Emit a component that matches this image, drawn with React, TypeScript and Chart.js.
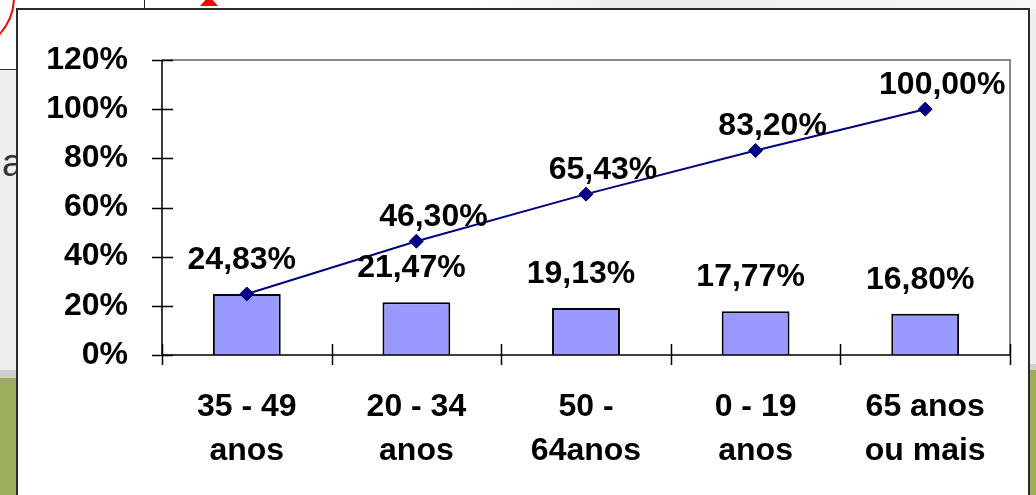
import React, { useEffect, useRef } from "react";
import { Chart, registerables } from "chart.js";

Chart.register(...registerables);

const categories: string[][] = [
  ["35 - 49", "anos"],
  ["20 - 34", "anos"],
  ["50 -", "64anos"],
  ["0 - 19", "anos"],
  ["65 anos", "ou mais"],
];
const shareValues = [24.83, 21.47, 19.13, 17.77, 16.8];
const cumulativeValues = [24.83, 46.3, 65.43, 83.2, 100.0];
const yTicks = [0, 20, 40, 60, 80, 100, 120];

const FONT_FAMILY = '"Liberation Sans", Arial, "DejaVu Sans", sans-serif';
const fmt = (v: number) => v.toFixed(2).replace(".", ",") + "%";

const axesPlugin = {
  id: "excelAxes",
  afterDatasetsDraw(chart: any) {
    const { ctx, chartArea, scales } = chart;
    const { left, right, top, bottom } = chartArea;
    const x = scales.x;
    const y = scales.y;
    ctx.save();
    ctx.strokeStyle = "#8a8a8a";
    ctx.lineWidth = 2;
    ctx.beginPath();
    ctx.moveTo(left, top);
    ctx.lineTo(right, top);
    ctx.lineTo(right, bottom);
    ctx.stroke();
    ctx.strokeStyle = "#000";
    ctx.lineWidth = 1.5;
    ctx.beginPath();
    ctx.moveTo(left, top);
    ctx.lineTo(left, bottom);
    ctx.lineTo(right, bottom);
    ctx.stroke();
    ctx.beginPath();
    yTicks.forEach((v) => {
      const py = Math.round(y.getPixelForValue(v)) + 0.5;
      ctx.moveTo(left - 10, py);
      ctx.lineTo(left + 11, py);
    });
    for (let i = 0; i <= categories.length; i++) {
      const px = Math.round(x.getPixelForValue(i - 0.5)) + 0.5;
      ctx.moveTo(px, bottom - 11);
      ctx.lineTo(px, bottom + 10);
    }
    ctx.stroke();
    ctx.restore();
  },
};

const labelsPlugin = {
  id: "valueLabels",
  afterDraw(chart: any) {
    const { ctx } = chart;
    ctx.save();
    ctx.font = `bold 32px ${FONT_FAMILY}`;
    ctx.fillStyle = "#000";
    ctx.textAlign = "center";
    ctx.textBaseline = "middle";
    const bars = chart.getDatasetMeta(0).data;
    bars.forEach((bar: any, i: number) => {
      ctx.fillText(fmt(shareValues[i]), bar.x - 5, bar.y - 34);
    });
    const pts = chart.getDatasetMeta(1).data;
    pts.forEach((pt: any, i: number) => {
      if (i === 0) return;
      ctx.fillText(fmt(cumulativeValues[i]), pt.x + 17, pt.y - 24);
    });
    ctx.restore();
  },
};

function ParetoChart() {
  const ref = useRef<HTMLCanvasElement | null>(null);
  useEffect(() => {
    if (!ref.current) return;
    const chart = new Chart(ref.current, {
      type: "bar",
      data: {
        labels: categories,
        datasets: [
          {
            type: "bar",
            data: shareValues,
            backgroundColor: "#9999FF",
            borderColor: "#000000",
            borderWidth: 2,
            barPercentage: 0.4,
            categoryPercentage: 1,
            order: 2,
          } as any,
          {
            type: "line",
            data: cumulativeValues,
            borderColor: "#000080",
            borderWidth: 2,
            backgroundColor: "#000080",
            pointStyle: "rectRot",
            pointRadius: 7,
            pointBorderWidth: 1,
            pointBackgroundColor: "#000080",
            pointBorderColor: "#000080",
            tension: 0,
            fill: false,
            order: 1,
          } as any,
        ],
      },
      options: {
        responsive: false,
        devicePixelRatio: 1,
        animation: false,
        events: [],
        layout: { padding: { left: 0, top: 60, right: 26, bottom: 0 } },
        plugins: {
          legend: { display: false },
          tooltip: { enabled: false },
          title: { display: false },
        },
        scales: {
          x: {
            offset: true,
            grid: { display: false, drawTicks: false },
            border: { display: false },
            ticks: {
              autoSkip: false,
              maxRotation: 0,
              minRotation: 0,
              padding: 30,
              color: "#000",
              font: { family: FONT_FAMILY, size: 32, weight: "bold", lineHeight: 1.375 },
            },
            afterFit: (scale: any) => {
              scale.height = 140;
            },
          },
          y: {
            min: 0,
            max: 120,
            grid: { display: false, drawTicks: false },
            border: { display: false },
            ticks: {
              stepSize: 20,
              padding: 34,
              color: "#000",
              font: { family: FONT_FAMILY, size: 32, weight: "bold" },
              callback: (v: any) => `${v}%`,
            },
            afterFit: (scale: any) => {
              scale.width = 162;
            },
          },
        },
      } as any,
      plugins: [axesPlugin, labelsPlugin],
    });
    return () => chart.destroy();
  }, []);
  return (
    <canvas
      ref={ref}
      width={1036}
      height={495}
      style={{ position: "absolute", left: 0, top: 0, width: 1036, height: 495 }}
    />
  );
}

export default function App() {
  return (
    <div
      style={{
        position: "fixed",
        left: 0,
        top: 0,
        width: 1036,
        height: 495,
        overflow: "hidden",
        background: "#efefef",
      }}
    >
      <div style={{ position: "absolute", left: 0, top: 0, width: 1036, height: 9, background: "linear-gradient(90deg,#ffffff 0%,#ffffff 45%,#eeeeee 60%,#f6f6f6 100%)" }} />
      <div style={{ position: "absolute", left: 0, top: 0, width: 20, height: 69, background: "#ffffff" }} />
      <div style={{ position: "absolute", left: 0, top: 69, width: 20, height: 1, background: "#333" }} />
      <div style={{ position: "absolute", left: 144, top: 0, width: 1, height: 9, background: "#222" }} />
      <div style={{ position: "absolute", left: 200, top: 0, width: 18, height: 6, background: "#ff0000", clipPath: "polygon(30% 0,70% 0,100% 100%,0 100%)" }} />
      <div style={{ position: "absolute", left: -97, top: -59, width: 112, height: 112, borderRadius: "50%", border: "2px solid #ff0000", boxSizing: "border-box" }} />
      <div style={{ position: "absolute", left: 0, top: 370, width: 20, height: 8, background: "#cfcfcf" }} />
      <div style={{ position: "absolute", left: 0, top: 378, width: 20, height: 117, background: "#9dae5e" }} />
      <div style={{ position: "absolute", left: 1020, top: 364, width: 16, height: 6, background: "#cfcfcf" }} />
      <div style={{ position: "absolute", left: 1020, top: 370, width: 16, height: 125, background: "#9dae5e" }} />
      <div style={{ position: "absolute", left: 2, top: 141, fontFamily: FONT_FAMILY, fontSize: 38, color: "#333", lineHeight: "44px" }}>a</div>
      <div
        style={{
          position: "absolute",
          left: 16,
          top: 8,
          width: 1014,
          height: 510,
          background: "#ffffff",
          border: "2px solid #2a2a2a",
          boxSizing: "border-box",
        }}
      />
      <ParetoChart />
    </div>
  );
}
